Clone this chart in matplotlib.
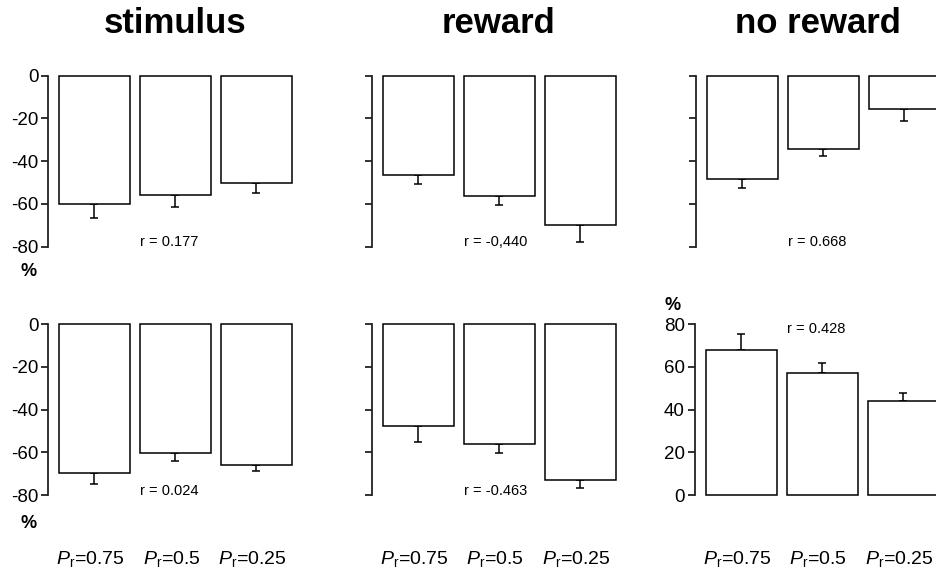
import matplotlib
matplotlib.use("Agg")
import matplotlib.pyplot as plt
import matplotlib.transforms as mtransforms
import numpy as np

plt.rcParams['font.family'] = ['Liberation Sans', 'DejaVu Sans']
plt.rcParams['mathtext.fontset'] = 'custom'
plt.rcParams['mathtext.rm'] = 'Liberation Sans'
plt.rcParams['mathtext.it'] = 'Liberation Sans:italic'

# ---- data ----
conditions = ["0.75", "0.5", "0.25"]
titles = ["stimulus", "reward", "no reward"]

stim_top = [-60.0, -56.0, -50.0]
stim_top_err = [6.5, 5.5, 4.8]
reward_top = [-46.3, -56.1, -70.0]
reward_top_err = [4.2, 4.2, 7.8]
noreward_top = [-48.3, -34.3, -15.6]
noreward_top_err = [4.2, 3.1, 5.6]

stim_bot = [-69.7, -60.4, -65.9]
stim_bot_err = [5.3, 3.6, 3.0]
reward_bot = [-47.8, -56.2, -73.1]
reward_bot_err = [7.2, 4.2, 3.5]
noreward_bot = [67.8, 57.4, 44.1]
noreward_bot_err = [7.8, 4.4, 3.5]

r_texts = ["r = 0.177", "r = -0,440", "r = 0.668",
           "r = 0.024", "r = -0.463", "r = 0.428"]

neg_ticks = [-80, -60, -40, -20, 0]
pos_ticks = [0, 20, 40, 60, 80]
xlabels = [r"$P_\mathrm{r}$=" + c for c in conditions]

# ---- layout ----
W, H = 936, 572
fig = plt.figure(figsize=(W / 100, H / 100), dpi=100)

BAR_W = 0.877
XLIM = (-0.574, 2.5)
AX_W = 249.0
LW = 1.1
TICK_FS = 13.5

def make_ax(left, top, bottom):
    return fig.add_axes([left / W, (H - bottom) / H, AX_W / W, (bottom - top) / H])

def draw(ax, vals, errs, ticks, show_labels, rtext, r_y, xlab):
    x = np.arange(len(vals))
    ax.bar(x, vals, width=BAR_W, color='white', edgecolor='black',
           linewidth=LW, clip_on=False, zorder=3)
    vals = np.array(vals)
    errs = np.array(errs)
    lower = np.where(vals < 0, errs, 0)
    upper = np.where(vals > 0, errs, 0)
    ax.errorbar(x, vals, yerr=[lower, upper], fmt='none', ecolor='black',
                elinewidth=LW, capsize=2.9, capthick=LW, clip_on=False, zorder=2)
    ax.set_xlim(*XLIM)
    ax.set_ylim(min(ticks), max(ticks))
    for s in ['top', 'right', 'bottom']:
        ax.spines[s].set_visible(False)
    ax.spines['left'].set_linewidth(1.3)
    ax.spines['left'].set_color('#222222')
    ax.set_yticks(ticks)
    if show_labels:
        ax.set_yticklabels([str(t) for t in ticks], fontsize=TICK_FS)
    else:
        ax.set_yticklabels([])
    ax.tick_params(axis='y', direction='out', length=5, width=1.3,
                   color='#222222', pad=2)
    ax.set_xticks([])
    if xlab:
        base = ax.get_xaxis_transform()
        tr = mtransforms.offset_copy(base, fig=fig, x=-4, y=-64, units='dots')
        for xi, lab in zip(x, xlabels):
            ax.text(xi, 0, lab, transform=tr, ha='center', va='center',
                    fontsize=14, clip_on=False)
    ax.text(x[1] - BAR_W / 2, r_y, rtext, ha='left', va='center', fontsize=10.5)
    ax.patch.set_visible(False)

top_t, top_b = 75.7, 246.7
bot_t, bot_b = 324.3, 495.0
lefts = [48.0, 371.7, 695.7]

ax1 = make_ax(lefts[0], top_t, top_b)
draw(ax1, stim_top, stim_top_err, neg_ticks, True, r_texts[0], -78, False)
ax2 = make_ax(lefts[1], top_t, top_b)
draw(ax2, reward_top, reward_top_err, neg_ticks, False, r_texts[1], -78, False)
ax3 = make_ax(lefts[2], top_t, top_b)
draw(ax3, noreward_top, noreward_top_err, neg_ticks, False, r_texts[2], -78, False)

ax4 = make_ax(lefts[0], bot_t, bot_b)
draw(ax4, stim_bot, stim_bot_err, neg_ticks, True, r_texts[3], -78, True)
ax5 = make_ax(lefts[1], bot_t, bot_b)
draw(ax5, reward_bot, reward_bot_err, neg_ticks, False, r_texts[4], -78, True)
ax6 = make_ax(694.7, bot_t, bot_b)
draw(ax6, noreward_bot, noreward_bot_err, pos_ticks, True, r_texts[5], 78, True)

# titles
for cx, t in zip([175.5, 498.0, 818.0], titles):
    fig.text(cx / W, 1 - 33 / H, t, ha='center', va='baseline',
             fontsize=25, fontweight='bold')

# percent labels
for px, py in [(29, 272), (29, 523), (673, 305)]:
    fig.text(px / W, 1 - py / H, '%', ha='center', va='center',
             fontsize=13, fontweight='bold')

fig.savefig("out.png", dpi=100)
